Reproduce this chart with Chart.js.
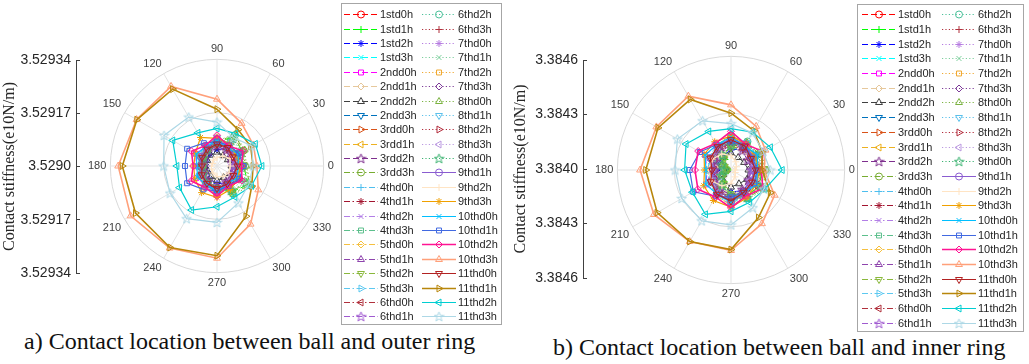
<!DOCTYPE html>
<html>
<head>
<meta charset="utf-8">
<script src="https://cdn.jsdelivr.net/npm/chart.js@4.4.0/dist/chart.umd.min.js"></script>
<style>
  html, body { margin: 0; padding: 0; background: #fff; }
  body { width: 1029px; height: 364px; position: relative; overflow: hidden; }
  canvas { position: absolute; }
  .legend {
    position: absolute; background: #fff; border: 1px solid #a6a6a6; box-sizing: border-box;
    display: grid; grid-auto-flow: column;
    font-family: 'Liberation Sans', Arial, sans-serif; font-size: 11px; color: #262626;
  }
  .legend .item { display: flex; align-items: center; white-space: nowrap; }
  .legend .item canvas { position: static; margin-right: 2px; }
  .cap { position: absolute; font-family: 'Liberation Serif', 'Times New Roman', serif; font-size: 24px; color: #111; white-space: nowrap; }
</style>
</head>
<body>
<canvas id="axA" width="80" height="245" style="left:0px;top:45px"></canvas>
<canvas id="polA" width="258" height="258" style="left:82px;top:37px"></canvas>
<div id="legA" class="legend" style="left:341px;top:3px;width:161px;height:322px;padding:3px 0 0 2px;grid-template-columns:78px 78px;grid-template-rows:repeat(22,14.4px)"></div>
<div class="cap" style="left:24px;top:328px">a) Contact location between ball and outer ring</div>

<canvas id="axB" width="76" height="250" style="left:511px;top:45px"></canvas>
<canvas id="polB" width="272" height="272" style="left:589px;top:34px"></canvas>
<div id="legB" class="legend" style="left:857px;top:4px;width:167px;height:328px;padding:2px 0 0 4px;grid-template-columns:80px 80px;grid-template-rows:repeat(22,14.7px)"></div>
<div class="cap" style="left:553px;top:334px">b) Contact location between ball and inner ring</div>

<script>
// ---- data ----
// angles in degrees, values = stiffness above the centre value, in 1e-5 (e10N/m)
const angles = [0, 30, 60, 90, 120, 150, 180, 210, 240, 270, 300, 330];
const clockwiseFromTop = [90, 60, 30, 0, 330, 300, 270, 240, 210, 180, 150, 120];

const seriesNames = [
  '1std0h', '1std1h', '1std2h', '1std3h', '2ndd0h', '2ndd1h', '2ndd2h', '2ndd3h',
  '3rdd0h', '3rdd1h', '3rdd2h', '3rdd3h', '4thd0h', '4thd1h', '4thd2h', '4thd3h',
  '5thd0h', '5thd1h', '5thd2h', '5thd3h', '6thd0h', '6thd1h', '6thd2h', '6thd3h',
  '7thd0h', '7thd1h', '7thd2h', '7thd3h', '8thd0h', '8thd1h', '8thd2h', '8thd3h',
  '9thd0h', '9thd1h', '9thd2h', '9thd3h', '10thd0h', '10thd1h', '10thd2h', '10thd3h',
  '11thd0h', '11thd1h', '11thd2h', '11thd3h'
];

const seriesColors = [
  '#ff0000', '#00ff00', '#0000ff', '#00ffff', '#ff00ff', '#e6c89c', '#404040', '#0072bd',
  '#d95319', '#edb120', '#7e2f8e', '#77ac30', '#4dbeee', '#a2142f', '#b27ee6', '#5cbf8c',
  '#f5c040', '#8e44ad', '#8ab83c', '#5cc8f0', '#b0303c', '#a05ad0', '#4cc09a', '#b0303c',
  '#b57be0', '#7ccf9c', '#f0a830', '#7d3c98', '#7cb342', '#5bc0eb', '#b22a3a', '#bb99e0',
  '#3cb371', '#8a5cd0', '#ffe4c4', '#f0a000', '#00bfff', '#4169e1', '#ff1493', '#ffa07a',
  '#b22222', '#b8860b', '#00ced1', '#add8e6'
];

// a) outer ring, 3.5290 at the centre, 3.52934 on the outer circle
const outerTicks = ['3.52934', '3.52917', '3.5290', '3.52917', '3.52934'];
const outerMax = 34, outerStep = 17;
const outerValues = [
  [7.2, 6.8, 7.6, 8.4, 6.2, 5.4, 4.6, 5.2, 6.0, 7.8, 7.4, 6.6],
  [8.4, 9.2, 11.0, 7.4, 5.8, 4.8, 4.2, 5.0, 6.2, 7.0, 9.6, 11.6],
  [5.6, 6.0, 6.6, 5.2, 4.4, 3.8, 3.2, 3.6, 4.8, 5.6, 6.2, 5.8],
  [6.4, 7.0, 6.0, 7.6, 6.8, 5.6, 5.0, 5.4, 6.6, 7.2, 6.0, 6.8],
  [6.8, 7.8, 6.4, 8.6, 7.2, 7.8, 6.6, 7.6, 7.0, 8.4, 6.2, 7.4],
  [5.0, 5.6, 6.2, 6.8, 5.4, 4.2, 3.6, 4.0, 5.2, 6.4, 5.8, 5.2],
  [4.6, 4.0, 3.8, 4.4, 4.0, 3.6, 4.0, 3.4, 3.8, 4.6, 4.2, 4.8],
  [7.0, 6.2, 7.4, 8.0, 6.6, 5.8, 5.4, 6.0, 7.2, 8.2, 6.8, 6.4],
  [7.6, 8.0, 7.0, 6.6, 6.0, 5.2, 4.8, 5.6, 6.4, 7.4, 8.2, 8.6],
  [6.2, 6.6, 7.8, 8.8, 7.6, 6.2, 5.6, 6.4, 7.8, 9.0, 7.2, 6.4],
  [5.4, 5.0, 5.8, 6.4, 5.6, 4.6, 4.2, 4.8, 5.6, 6.6, 5.8, 5.2],
  [9.0, 9.8, 11.4, 7.8, 6.0, 5.0, 4.4, 5.2, 6.4, 7.4, 10.0, 12.2],
  [6.6, 7.2, 8.0, 9.0, 7.0, 6.4, 5.8, 6.2, 7.4, 8.8, 7.6, 7.0],
  [7.4, 6.8, 6.2, 7.0, 6.4, 5.6, 5.2, 5.8, 6.6, 7.6, 7.2, 7.8],
  [5.8, 6.6, 7.0, 8.4, 6.8, 5.8, 5.0, 5.4, 6.8, 8.2, 7.0, 6.2],
  [6.0, 6.4, 7.2, 7.8, 6.4, 5.4, 4.8, 5.2, 6.2, 7.6, 6.8, 6.2],
  [7.8, 7.2, 7.8, 9.2, 7.4, 6.0, 5.4, 6.2, 7.6, 9.4, 8.0, 7.6],
  [6.6, 6.0, 6.8, 7.4, 6.2, 5.2, 4.6, 5.4, 6.4, 7.6, 6.8, 6.4],
  [8.6, 9.4, 10.8, 7.6, 5.8, 4.8, 4.2, 4.6, 5.8, 6.8, 9.2, 11.2],
  [7.2, 7.6, 8.4, 8.8, 7.2, 6.6, 6.0, 6.6, 7.4, 8.6, 7.8, 7.4],
  [6.0, 5.6, 6.4, 7.2, 6.0, 5.0, 4.4, 5.0, 6.0, 7.0, 6.4, 6.2],
  [5.2, 5.8, 6.6, 7.4, 6.2, 5.2, 4.6, 5.0, 6.2, 7.4, 6.4, 5.6],
  [7.0, 7.4, 8.6, 7.6, 6.4, 5.6, 5.0, 5.6, 6.8, 7.8, 8.4, 8.0],
  [6.8, 6.2, 6.0, 6.8, 6.2, 5.8, 5.6, 5.8, 6.4, 7.0, 6.6, 7.0],
  [5.6, 6.2, 7.4, 8.0, 6.6, 5.6, 4.8, 5.6, 6.6, 7.8, 6.8, 6.0],
  [7.6, 8.2, 9.6, 7.2, 6.0, 5.0, 4.6, 5.2, 6.2, 7.0, 8.8, 9.4],
  [6.4, 7.0, 7.6, 8.6, 7.4, 6.0, 5.4, 6.0, 7.2, 8.4, 7.4, 6.8],
  [6.2, 5.8, 6.4, 7.0, 5.8, 4.8, 4.2, 4.8, 5.8, 6.8, 6.2, 6.0],
  [9.4, 10.2, 11.8, 8.0, 6.2, 5.2, 4.6, 5.4, 6.6, 7.6, 10.4, 12.6],
  [7.0, 7.8, 8.2, 9.0, 7.6, 6.6, 6.0, 6.4, 7.6, 9.2, 8.0, 7.4],
  [7.8, 7.2, 6.8, 7.4, 6.6, 5.8, 5.2, 6.0, 6.8, 7.6, 7.4, 8.0],
  [6.4, 6.8, 7.4, 8.2, 7.0, 6.0, 5.4, 5.8, 6.8, 8.0, 7.2, 6.6],
  [8.0, 8.8, 10.2, 7.6, 6.2, 5.2, 4.8, 5.4, 6.4, 7.4, 9.0, 10.6],
  [5.8, 6.4, 7.2, 8.2, 6.6, 6.0, 5.2, 5.8, 6.8, 8.0, 7.0, 6.2],
  [4.2, 4.8, 3.6, 2.8, 2.2, 1.6, 1.8, 2.0, 2.6, 3.4, 3.8, 4.4],
  [7.5, 7.0, 8.2, 8.8, 10.5, 8.0, 7.4, 8.2, 9.8, 10.0, 8.6, 7.6],
  [6.8, 7.8, 6.6, 8.2, 7.0, 7.6, 6.4, 7.2, 6.9, 8.0, 6.5, 7.4],
  [8.5, 8.0, 7.6, 7.8, 8.4, 11.0, 10.2, 11.0, 8.6, 7.9, 7.4, 8.2],
  [7.8, 9.6, 7.4, 9.8, 7.5, 9.4, 7.6, 9.5, 7.8, 9.6, 7.3, 9.2],
  [12.7, 13.4, 15.7, 21.3, 29.3, 29.6, 31.5, 31.8, 30.2, 29.4, 21.4, 15.2],
  [6.5, 5.8, 6.8, 7.0, 6.2, 5.5, 4.8, 5.6, 6.4, 7.2, 6.6, 6.0],
  [11.5, 12.4, 13.4, 18.1, 28.3, 29.5, 30.2, 30.0, 30.0, 28.6, 18.5, 12.8],
  [14.3, 14.1, 11.9, 12.0, 12.2, 16.3, 12.8, 13.8, 16.2, 13.0, 11.4, 12.7],
  [11.5, 12.8, 10.5, 14.0, 18.0, 19.5, 17.0, 17.3, 19.4, 18.0, 13.6, 11.7]
];

// b) inner ring, 3.3840 at the centre, 3.3846 on the outer circle
const innerTicks = ['3.3846', '3.3843', '3.3840', '3.3843', '3.3846'];
const innerMax = 60, innerStep = 30;
const innerValues = [
  [14.6, 13.2, 15.8, 17.6, 12.6, 10.4, 8.6, 10.2, 12.4, 16.4, 15.2, 13.4],
  [16.2, 14.0, 12.8, 11.0, 6.4, 3.0, 1.6, 3.4, 7.2, 12.6, 15.8, 17.4],
  [11.4, 12.6, 13.4, 10.6, 8.6, 7.2, 6.0, 7.4, 9.4, 11.6, 12.6, 11.8],
  [13.0, 14.4, 12.4, 15.6, 13.8, 11.2, 9.4, 10.6, 13.2, 14.8, 12.4, 13.8],
  [14.0, 16.0, 13.2, 17.4, 14.6, 15.8, 12.6, 15.2, 14.0, 17.0, 12.8, 15.0],
  [10.4, 11.4, 12.6, 13.8, 10.8, 8.4, 7.0, 8.2, 10.6, 13.0, 11.8, 10.6],
  [9.2, 8.0, 7.6, 8.8, 7.8, 5.6, 2.2, 4.8, 7.2, 9.0, 8.4, 9.8],
  [14.2, 12.6, 15.0, 16.2, 13.4, 11.6, 10.6, 12.0, 14.6, 16.6, 13.8, 13.0],
  [15.4, 16.2, 14.2, 13.4, 12.0, 10.4, 9.6, 11.2, 12.8, 15.0, 16.6, 17.4],
  [12.6, 13.4, 15.8, 17.8, 15.4, 12.4, 11.2, 12.8, 15.8, 18.2, 14.6, 13.0],
  [11.0, 10.2, 11.8, 13.0, 11.4, 9.2, 8.4, 9.6, 11.4, 13.4, 11.8, 10.6],
  [18.2, 17.4, 16.0, 12.8, 8.2, 4.6, 2.4, 5.0, 9.0, 13.4, 17.0, 19.6],
  [13.4, 14.6, 16.2, 18.2, 14.2, 12.8, 11.6, 12.4, 15.0, 17.8, 15.4, 14.2],
  [15.0, 13.8, 12.6, 14.2, 13.0, 11.2, 10.4, 11.6, 13.4, 15.4, 14.6, 15.8],
  [11.8, 13.4, 14.2, 17.0, 13.8, 11.6, 10.0, 10.8, 13.8, 16.6, 14.2, 12.6],
  [12.2, 13.0, 14.6, 15.8, 13.0, 10.8, 9.6, 10.4, 12.6, 15.4, 13.8, 12.6],
  [15.8, 14.6, 15.8, 18.6, 15.0, 12.0, 10.8, 12.4, 15.4, 19.0, 16.2, 15.4],
  [13.4, 12.2, 13.8, 15.0, 12.6, 10.4, 9.2, 10.8, 13.0, 15.4, 13.8, 13.0],
  [17.4, 16.0, 14.4, 11.6, 6.8, 3.8, 2.0, 4.2, 8.0, 12.4, 16.4, 18.6],
  [14.6, 15.4, 17.0, 17.8, 14.6, 13.4, 12.0, 13.4, 15.0, 17.4, 15.8, 15.0],
  [12.2, 11.4, 13.0, 14.6, 12.2, 10.0, 8.8, 10.0, 12.2, 14.2, 13.0, 12.6],
  [10.6, 11.8, 13.4, 15.0, 12.6, 10.4, 9.2, 10.0, 12.6, 15.0, 13.0, 11.4],
  [14.2, 15.0, 17.4, 15.4, 13.0, 11.4, 10.0, 11.4, 13.8, 15.8, 17.0, 16.2],
  [13.8, 12.6, 12.2, 13.8, 12.6, 11.8, 11.4, 11.8, 13.0, 14.2, 13.4, 14.2],
  [11.4, 12.6, 15.0, 16.2, 13.4, 11.4, 9.6, 11.4, 13.4, 15.8, 13.8, 12.2],
  [15.4, 16.6, 15.4, 12.6, 9.4, 6.2, 4.2, 6.6, 9.8, 12.8, 16.0, 17.2],
  [13.0, 14.2, 15.4, 17.4, 15.0, 12.2, 11.0, 12.2, 14.6, 17.0, 15.0, 13.8],
  [12.6, 11.8, 13.0, 14.2, 11.8, 9.8, 8.6, 9.8, 11.8, 13.8, 12.6, 12.2],
  [19.0, 18.2, 16.8, 13.4, 8.8, 5.2, 2.8, 5.6, 9.6, 14.0, 17.8, 20.4],
  [14.2, 15.8, 16.6, 18.2, 15.4, 13.4, 12.2, 13.0, 15.4, 18.6, 16.2, 15.0],
  [15.8, 14.6, 13.8, 15.0, 13.4, 11.8, 10.6, 12.2, 13.8, 15.4, 15.0, 16.2],
  [13.0, 13.8, 15.0, 16.6, 14.2, 12.2, 11.0, 11.8, 13.8, 16.2, 14.6, 13.4],
  [16.2, 17.0, 15.8, 13.0, 9.0, 5.6, 3.6, 6.0, 9.4, 13.6, 16.8, 18.0],
  [12.0, 13.6, 15.2, 17.0, 13.8, 12.6, 9.6, 11.8, 14.4, 16.6, 14.6, 12.8],
  [2.0, 3.4, 5.0, 7.6, 9.8, 11.4, 12.2, 11.6, 9.6, 7.0, 4.2, 2.6],
  [15.0, 14.4, 16.0, 18.0, 17.2, 16.4, 14.0, 16.6, 18.6, 19.6, 17.0, 15.2],
  [14.0, 16.2, 14.4, 17.4, 15.2, 15.8, 13.2, 15.4, 14.6, 17.0, 13.8, 15.6],
  [14.0, 13.0, 14.6, 15.0, 15.4, 19.0, 21.8, 23.0, 16.0, 14.4, 13.6, 14.2],
  [16.0, 19.6, 15.6, 20.4, 16.2, 20.0, 19.0, 20.2, 16.4, 20.0, 15.8, 19.4],
  [17.5, 21.0, 26.6, 34.4, 45.0, 45.5, 48.0, 47.0, 43.6, 42.5, 32.7, 26.6],
  [13.0, 12.2, 14.6, 16.0, 14.2, 12.6, 10.0, 12.4, 14.8, 16.4, 13.6, 12.8],
  [16.4, 19.0, 24.0, 30.0, 43.0, 44.5, 45.0, 45.0, 43.6, 42.0, 29.0, 24.0],
  [27.0, 24.0, 23.0, 21.8, 23.5, 27.4, 24.5, 23.5, 27.0, 21.8, 19.7, 20.5],
  [20.7, 19.6, 22.6, 24.5, 30.0, 32.7, 29.5, 30.0, 31.0, 29.0, 23.0, 20.0]
];

// ---- styles ----
const SANS = "'Liberation Sans', Arial, sans-serif";
const SERIF = "'Liberation Serif', 'Times New Roman', serif";
const dashStyles = [[6, 3], [6, 2.5, 1.5, 2.5], [1.2, 2.2], []];   // --  -.  :  -

function pentagram(color) {
  const c = document.createElement('canvas');
  c.width = 11; c.height = 11;
  const g = c.getContext('2d');
  g.strokeStyle = color; g.lineWidth = 1;
  g.beginPath();
  for (let k = 0; k < 10; k++) {
    const rr = k % 2 ? 2.1 : 5;
    const t = -Math.PI / 2 + k * Math.PI / 5;
    const x = 5.5 + rr * Math.cos(t), y = 5.9 + rr * Math.sin(t);
    if (k) g.lineTo(x, y); else g.moveTo(x, y);
  }
  g.closePath();
  g.stroke();
  return c;
}

function markerFor(i) {
  const k = i % 11;
  const list = [
    ['circle', 0], ['cross', 0], ['star', 0], ['crossRot', 0], ['rect', 0], ['rectRot', 0],
    ['triangle', 0], ['triangle', 180], ['triangle', 90], ['triangle', 270], [null, 0]
  ];
  const [style, rot] = list[k];
  return { pointStyle: style || pentagram(seriesColors[i]), rotation: rot, radius: k >= 6 && k <= 9 ? 4 : 3.5 };
}

function lineWidthFor(i) {
  if (i === 38 || i === 39 || i === 41) return 1.6;
  return i >= 33 ? 1.2 : 1;
}

// ---- charts ----
function buildAxis(id, ticks, width) {
  new Chart(document.getElementById(id), {
    type: 'line',
    data: { labels: [], datasets: [] },
    options: {
      responsive: false, animation: false, events: [],
      layout: { padding: { top: 15, bottom: 17, left: 0, right: 0 } },
      plugins: { legend: { display: false }, tooltip: { enabled: false } },
      scales: {
        x: { display: false },
        y: {
          type: 'category', labels: ticks, offset: false,
          afterFit: s => { s.width = width; },
          grid: { color: '#404040', lineWidth: 1, drawTicks: false },
          border: { display: true, color: '#404040', width: 1 },
          ticks: { font: { family: SANS, size: 14 }, color: '#262626', padding: 5, autoSkip: false },
          title: { display: true, text: 'Contact stiffness(e10N/m)', font: { family: SERIF, size: 16 }, color: '#262626', padding: { top: 0, bottom: 2 } }
        }
      }
    }
  });
}

function buildPolar(id, values, rMax, rStep) {
  const datasets = values.map((row, i) => {
    const m = markerFor(i);
    return {
      label: seriesNames[i],
      data: clockwiseFromTop.map(a => row[angles.indexOf(a)]),
      borderColor: seriesColors[i],
      backgroundColor: 'rgba(0,0,0,0)',
      fill: false,
      borderWidth: lineWidthFor(i),
      borderDash: dashStyles[Math.floor(i / 11)],
      pointStyle: m.pointStyle,
      pointRotation: m.rotation,
      pointRadius: m.radius,
      pointBorderColor: seriesColors[i],
      pointBackgroundColor: 'rgba(0,0,0,0)',
      pointBorderWidth: 1,
      order: -i
    };
  });
  new Chart(document.getElementById(id), {
    type: 'radar',
    data: { labels: clockwiseFromTop.map(String), datasets },
    options: {
      responsive: false, animation: false, events: [],
      layout: { padding: 0 },
      elements: { line: { tension: 0 } },
      plugins: { legend: { display: false }, tooltip: { enabled: false } },
      scales: {
        r: {
          min: 0, max: rMax, startAngle: 0,
          ticks: { display: false, stepSize: rStep },
          grid: { circular: true, color: '#d9d9d9' },
          angleLines: { color: '#e3e3e3' },
          pointLabels: { font: { family: SANS, size: 11 }, color: '#404040', padding: 4 }
        }
      }
    }
  });
}

function buildLegend(id) {
  const box = document.getElementById(id);
  seriesNames.forEach((name, i) => {
    const item = document.createElement('div');
    item.className = 'item';
    const c = document.createElement('canvas');
    c.width = 34; c.height = 12;
    const g = c.getContext('2d');
    g.strokeStyle = seriesColors[i];
    g.lineWidth = lineWidthFor(i);
    g.setLineDash(dashStyles[Math.floor(i / 11)]);
    g.beginPath(); g.moveTo(0, 6.5); g.lineTo(34, 6.5); g.stroke();
    g.setLineDash([]);
    g.lineWidth = 1;
    g.fillStyle = 'rgba(0,0,0,0)';
    const m = markerFor(i);
    Chart.helpers.drawPoint(g, { pointStyle: m.pointStyle, rotation: m.rotation, radius: m.radius, borderWidth: 1 }, 17, 6.5);
    const t = document.createElement('span');
    t.textContent = name;
    item.appendChild(c); item.appendChild(t);
    box.appendChild(item);
  });
}

buildAxis('axA', outerTicks, 76);
buildPolar('polA', outerValues, outerMax, outerStep);
buildLegend('legA');

buildAxis('axB', innerTicks, 72);
buildPolar('polB', innerValues, innerMax, innerStep);
buildLegend('legB');
</script>
</body>
</html>
